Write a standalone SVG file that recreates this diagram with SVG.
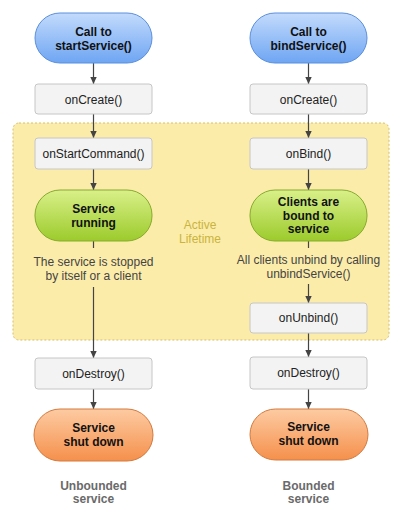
<svg xmlns="http://www.w3.org/2000/svg" width="404" height="520" viewBox="0 0 404 520">
<style>
text{font-family:"Liberation Sans",Arial,Helvetica,sans-serif;font-size:12px;text-anchor:middle}
.b{font-weight:bold;fill:#111}
.r{fill:#222}
.d{fill:#444}
.lbl{font-weight:bold;fill:#6a6a6a}
.act{fill:#c9b43e}
.box{fill:#f3f3f3;stroke:#c6c6c6;stroke-width:1}
.blue{fill:url(#gb);stroke:#5b8fdc;stroke-width:1}
.green{fill:url(#gg);stroke:#86ab2c;stroke-width:1}
.orange{fill:url(#go);stroke:#d27a3e;stroke-width:1}
.c{stroke:#444;stroke-width:1.2;fill:none}
</style>
<defs>
<linearGradient id="gb" x1="0" y1="0" x2="0" y2="1"><stop offset="0" stop-color="#c3dbfc"/><stop offset="1" stop-color="#6ea5f3"/></linearGradient>
<linearGradient id="gg" x1="0" y1="0" x2="0" y2="1"><stop offset="0" stop-color="#d9f089"/><stop offset="1" stop-color="#9ccb2c"/></linearGradient>
<linearGradient id="go" x1="0" y1="0" x2="0" y2="1"><stop offset="0" stop-color="#fdcba2"/><stop offset="1" stop-color="#f5904c"/></linearGradient>
<marker id="ar" markerUnits="userSpaceOnUse" markerWidth="8" markerHeight="8" viewBox="0 0 8 8" refX="7" refY="4" orient="auto"><path d="M0,0.8 L7,4 L0,7.2 Z" fill="#444"/></marker>
</defs>
<rect id="active" x="13" y="123" width="376" height="217" rx="6" fill="#fcecaa" stroke="#d6bf6a" stroke-width="1" stroke-dasharray="2,2"/>
<g id="activeLabel"><text class="act" x="200" y="229">Active</text><text class="act" x="200" y="243">Lifetime</text></g>
<g id="connectors">
<line class="c" x1="93.5" y1="63" x2="93.5" y2="84" marker-end="url(#ar)"/>
<line class="c" x1="93.5" y1="114" x2="93.5" y2="138" marker-end="url(#ar)"/>
<line class="c" x1="93.5" y1="169" x2="93.5" y2="190" marker-end="url(#ar)"/>
<line class="c" x1="93.5" y1="241" x2="93.5" y2="248"/>
<line class="c" x1="93.5" y1="287" x2="93.5" y2="358" marker-end="url(#ar)"/>
<line class="c" x1="93.5" y1="389" x2="93.5" y2="409" marker-end="url(#ar)"/>
<line class="c" x1="308.5" y1="63" x2="308.5" y2="84" marker-end="url(#ar)"/>
<line class="c" x1="308.5" y1="114" x2="308.5" y2="138" marker-end="url(#ar)"/>
<line class="c" x1="308.5" y1="169" x2="308.5" y2="190" marker-end="url(#ar)"/>
<line class="c" x1="308.5" y1="241" x2="308.5" y2="248"/>
<line class="c" x1="308.5" y1="284" x2="308.5" y2="303" marker-end="url(#ar)"/>
<line class="c" x1="308.5" y1="333" x2="308.5" y2="357" marker-end="url(#ar)"/>
<line class="c" x1="308.5" y1="389" x2="308.5" y2="409" marker-end="url(#ar)"/>
</g>
<g id="startService"><rect class="blue" x="35" y="13" width="117" height="50" rx="25"/><text class="b" x="93.5" y="36">Call to</text><text class="b" x="93.5" y="50">startService()</text></g>
<g id="bindService"><rect class="blue" x="250" y="13" width="117" height="50" rx="25"/><text class="b" x="308.5" y="36">Call to</text><text class="b" x="308.5" y="50">bindService()</text></g>
<g id="onCreateL"><rect class="box" x="35" y="84" width="117" height="30" rx="3"/><text class="r" x="93.5" y="104">onCreate()</text></g>
<g id="onCreateR"><rect class="box" x="250" y="84" width="117" height="30" rx="3"/><text class="r" x="308.5" y="104">onCreate()</text></g>
<g id="onStartCommand"><rect class="box" x="35" y="138" width="117" height="31" rx="3"/><text class="r" x="93.5" y="158">onStartCommand()</text></g>
<g id="onBind"><rect class="box" x="250" y="138" width="117" height="31" rx="3"/><text class="r" x="308.5" y="158">onBind()</text></g>
<g id="serviceRunning"><rect class="green" x="35" y="190" width="117" height="51" rx="25"/><text class="b" x="93.5" y="213">Service</text><text class="b" x="93.5" y="227">running</text></g>
<g id="clientsBound"><rect class="green" x="250" y="190" width="117" height="51" rx="25"/><text class="b" x="308.5" y="206">Clients are</text><text class="b" x="308.5" y="220">bound to</text><text class="b" x="308.5" y="233">service</text></g>
<g id="stoppedText"><text class="d" x="93.5" y="266">The service is stopped</text><text class="d" x="93.5" y="280">by itself or a client</text></g>
<g id="unbindText"><text class="d" x="308.5" y="264">All clients unbind by calling</text><text class="d" x="308.5" y="278">unbindService()</text></g>
<g id="onUnbind"><rect class="box" x="250" y="303" width="117" height="30" rx="3"/><text class="r" x="308.5" y="322">onUnbind()</text></g>
<g id="onDestroyL"><rect class="box" x="35" y="358" width="117" height="31" rx="3"/><text class="r" x="93.5" y="378">onDestroy()</text></g>
<g id="onDestroyR"><rect class="box" x="250" y="357" width="117" height="32" rx="3"/><text class="r" x="308.5" y="377">onDestroy()</text></g>
<g id="shutDownL"><rect class="orange" x="34" y="409" width="119" height="52" rx="26"/><text class="b" x="93.5" y="432">Service</text><text class="b" x="93.5" y="446">shut down</text></g>
<g id="shutDownR"><rect class="orange" x="250" y="409" width="118" height="51" rx="25.5"/><text class="b" x="308.5" y="431">Service</text><text class="b" x="308.5" y="445">shut down</text></g>
<g id="labels"><text class="lbl" x="93.5" y="490">Unbounded</text><text class="lbl" x="93.5" y="503">service</text><text class="lbl" x="308.5" y="490">Bounded</text><text class="lbl" x="308.5" y="503">service</text></g>
</svg>
